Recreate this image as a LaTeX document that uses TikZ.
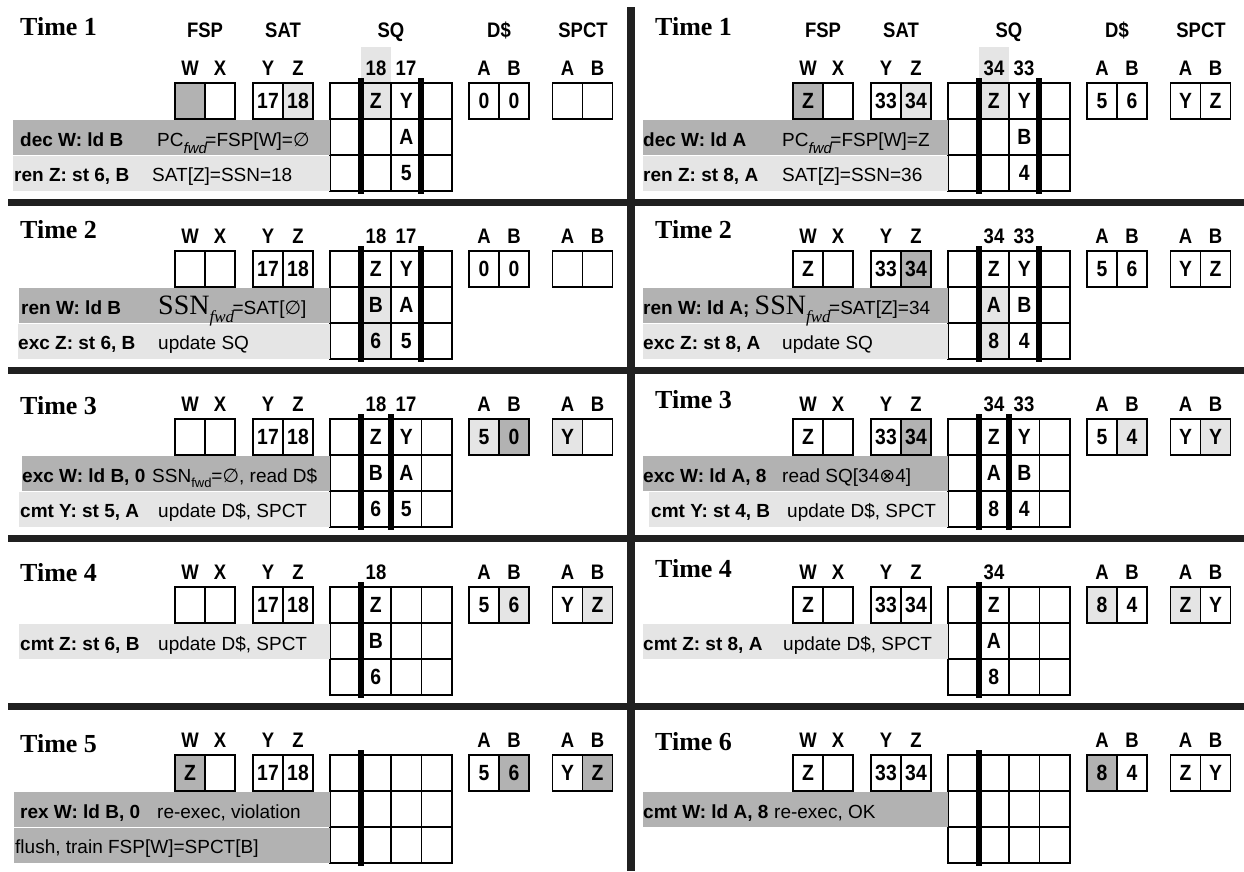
\documentclass[tikz,border=0pt]{standalone}
\usepackage{fontspec}
\setmainfont{Liberation Sans}
\newfontfamily\narrowf[FakeStretch=0.88]{Liberation Sans}
\newfontfamily\tmsf{Liberation Serif}
\newfontfamily\djv{DejaVu Sans}
\definecolor{lg}{RGB}{229,229,229}
\definecolor{dg}{RGB}{178,178,178}
\definecolor{sepc}{RGB}{32,32,32}
\tikzset{
  cellbox/.style={draw, line width=1.2pt, minimum width=30pt, minimum height=36pt, inner sep=0pt,
    font=\narrowf\bfseries\fontsize{22}{22}\selectfont},
  sqtxt/.style={inner sep=0pt, font=\narrowf\bfseries\fontsize{22}{22}\selectfont},
  lbl/.style={anchor=base, inner sep=0pt, font=\narrowf\bfseries\fontsize{21}{21}\selectfont},
  btxt/.style={anchor=base west, inner sep=0pt, font=\bfseries\fontsize{19}{19}\selectfont},
  rtxt/.style={anchor=base west, inner sep=0pt, font=\fontsize{19}{19}\selectfont},
  tlab/.style={anchor=base west, inner sep=0pt, font=\tmsf\bfseries\fontsize{26}{26}\selectfont},
  gl/.style={line width=1.2pt},
}
\newcounter{nc}
\newcommand\cl[4]{\stepcounter{nc}\node[cellbox,fill=#3] (c\arabic{nc}) at (#1,#2) {#4};}
\newcommand\pr[6]{\cl{#1+15}{#2+18}{#3}{#4}\cl{#1+45}{#2+18}{#5}{#6}}
\newcommand\fspp[5]{\pr{175}{#1}{#2}{#3}{#4}{#5}}
\newcommand\satp[5]{\pr{253}{#1}{#2}{#3}{#4}{#5}}
\newcommand\dcp[5]{\pr{469}{#1}{#2}{#3}{#4}{#5}}
\newcommand\spp[5]{\pr{552.5}{#1}{#2}{#3}{#4}{#5}}
\newcommand\lab[3]{\stepcounter{nc}\node[lbl] (l\arabic{nc}) at (#1,#2-8) {#3};}
\newcommand\labs[1]{\lab{190}{#1}{W}\lab{220}{#1}{X}\lab{268}{#1}{Y}\lab{298}{#1}{Z}\lab{484}{#1}{A}\lab{514}{#1}{B}\lab{567.5}{#1}{A}\lab{597.5}{#1}{B}}
\newcommand\sqf[4]{\fill[#4] ({330+30.5*(#2-1)},{#1+36*(#3-1)}) rectangle +(30.5,36);}
\newcommand\sqg[1]{\draw[gl] (330,#1) rectangle (452,#1+108) (360.5,#1) -- (360.5,#1+108) (391,#1) -- (391,#1+108) (421.5,#1) -- (421.5,#1+108) (330,#1+36) -- (452,#1+36) (330,#1+72) -- (452,#1+72);}
\newcommand\sqt[4]{\stepcounter{nc}\node[sqtxt] (q\arabic{nc}) at ({330+30.5*#2-15.25},{#1+36*#3-18}) {#4};}
\newcommand\tbar[2]{\fill (#1-3,#2-5) rectangle (#1+3,#2+111);}
\newcommand\rowbg[4]{\fill[#1] (#2,{#3+36*#4+0.5}) rectangle (330,{#3+36*#4+35.5});}
\newcommand\bt[3]{\stepcounter{nc}\node[btxt] (b\arabic{nc}) at (#1,#2) {#3};}
\newcommand\rt[3]{\stepcounter{nc}\node[rtxt] (r\arabic{nc}) at (#1,#2) {#3};}
\newcommand\tl[3]{\stepcounter{nc}\node[tlab] (t\arabic{nc}) at (#1,#2) {#3};}
\newcommand\hd[2]{\stepcounter{nc}\node[lbl] (h\arabic{nc}) at (#1,37) {#2};}
\newcommand\hds{\hd{205}{FSP}\hd{283}{SAT}\hd{391}{SQ}\hd{499}{D\$}\hd{583}{SPCT}}
\newcommand\es{{\djv ∅}}
\newcommand\otm{{\djv ⊗}}
\newcommand\fwdi{\raisebox{-7pt}{\fontsize{15}{15}\selectfont\itshape fwd}\kern-1.5pt}
\newcommand\fwdu{\raisebox{-5pt}{\fontsize{13}{13}\selectfont fwd}}
\newcommand\ssnf{{\tmsf\fontsize{28}{28}\selectfont SSN}\raisebox{-8pt}{\tmsf\itshape\fontsize{17}{17}\selectfont fwd}\kern-1.5pt}
\begin{document}
\begin{tikzpicture}[x=1pt,y=-1pt]
\useasboundingbox (0,0) rectangle (1244,871);
% separators
\fill[sepc] (8,199) rectangle (1244,206);
\fill[sepc] (8,367) rectangle (1244,374);
\fill[sepc] (8,535) rectangle (1244,542);
\fill[sepc] (8,703) rectangle (1244,710);
\fill[sepc] (627,7) rectangle (635,871);

% ================= LEFT HALF =================
\begin{scope}
% ---- Time 1
\tl{20}{35}{Time 1}
\hds
\fill[lg] (360.5,47) rectangle (391,83);
\labs{83}\lab{376}{83}{18}\lab{406}{83}{17}
\fspp{83}{dg}{}{white}{}
\satp{83}{white}{17}{lg}{18}
\dcp{83}{white}{0}{white}{0}
\spp{83}{white}{}{white}{}
\sqf{83}{2}{1}{lg}\sqg{83}
\sqt{83}{2}{1}{Z}\sqt{83}{3}{1}{Y}\sqt{83}{3}{2}{A}\sqt{83}{3}{3}{5}
\tbar{361}{83}\tbar{421}{83}
\rowbg{dg}{13}{83}{1}\rowbg{lg}{13}{83}{2}
\bt{20}{146}{dec W: ld B}\rt{157}{146}{PC\fwdi=FSP[W]=\es}
\bt{14}{181}{ren Z: st 6, B}\rt{152}{181}{SAT[Z]=SSN=18}
% ---- Time 2
\tl{20}{238}{Time 2}
\labs{251}\lab{376}{251}{18}\lab{406}{251}{17}
\fspp{251}{white}{}{white}{}
\satp{251}{white}{17}{white}{18}
\dcp{251}{white}{0}{white}{0}
\spp{251}{white}{}{white}{}
\sqf{251}{2}{2}{lg}\sqf{251}{2}{3}{lg}\sqg{251}
\sqt{251}{2}{1}{Z}\sqt{251}{3}{1}{Y}\sqt{251}{2}{2}{B}\sqt{251}{3}{2}{A}\sqt{251}{2}{3}{6}\sqt{251}{3}{3}{5}
\tbar{361}{251}\tbar{421}{251}
\rowbg{dg}{19}{251}{1}\rowbg{lg}{18}{251}{2}
\bt{21}{314}{ren W: ld B}\rt{158}{314}{\ssnf=SAT[\es]}
\bt{18}{349}{exc Z: st 6, B}\rt{158}{349}{update SQ}
% ---- Time 3
\tl{20}{414}{Time 3}
\labs{419}\lab{376}{419}{18}\lab{406}{419}{17}
\fspp{419}{white}{}{white}{}
\satp{419}{white}{17}{white}{18}
\dcp{419}{lg}{5}{dg}{0}
\spp{419}{lg}{Y}{white}{}
\sqg{419}
\sqt{419}{2}{1}{Z}\sqt{419}{3}{1}{Y}\sqt{419}{2}{2}{B}\sqt{419}{3}{2}{A}\sqt{419}{2}{3}{6}\sqt{419}{3}{3}{5}
\tbar{361}{419}\tbar{391}{419}
\rowbg{dg}{22}{419}{1}\rowbg{lg}{19}{419}{2}
\bt{22}{482}{exc W: ld B, 0}\rt{152}{482}{SSN\fwdu=\es, read D\$}
\bt{20}{517}{cmt Y: st 5, A}\rt{158}{517}{update D\$, SPCT}
% ---- Time 4
\tl{20}{581}{Time 4}
\labs{587}\lab{376}{587}{18}
\fspp{587}{white}{}{white}{}
\satp{587}{white}{17}{white}{18}
\dcp{587}{white}{5}{lg}{6}
\spp{587}{white}{Y}{lg}{Z}
\sqg{587}
\sqt{587}{2}{1}{Z}\sqt{587}{2}{2}{B}\sqt{587}{2}{3}{6}
\tbar{361}{587}
\rowbg{lg}{19}{587}{1}
\bt{20}{650}{cmt Z: st 6, B}\rt{158}{650}{update D\$, SPCT}
% ---- Time 5
\tl{20}{752}{Time 5}
\labs{755}
\fspp{755}{dg}{Z}{white}{}
\satp{755}{white}{17}{white}{18}
\dcp{755}{white}{5}{dg}{6}
\spp{755}{white}{Y}{dg}{Z}
\sqg{755}
\tbar{361}{755}
\rowbg{dg}{14}{755}{1}\rowbg{dg}{14}{755}{2}
\bt{20}{818}{rex W: ld B, 0}\rt{157}{818}{re-exec, violation}
\rt{15}{853}{flush, train FSP[W]=SPCT[B]}
\end{scope}

% ================= RIGHT HALF =================
\begin{scope}[xshift=618]
% ---- Time 1
\tl{37}{35}{Time 1}
\hds
\fill[lg] (360.5,47) rectangle (391,83);
\labs{83}\lab{376}{83}{34}\lab{406}{83}{33}
\fspp{83}{dg}{Z}{white}{}
\satp{83}{white}{33}{lg}{34}
\dcp{83}{white}{5}{white}{6}
\spp{83}{white}{Y}{white}{Z}
\sqf{83}{2}{1}{lg}\sqg{83}
\sqt{83}{2}{1}{Z}\sqt{83}{3}{1}{Y}\sqt{83}{3}{2}{B}\sqt{83}{3}{3}{4}
\tbar{361}{83}\tbar{421}{83}
\rowbg{dg}{25}{83}{1}\rowbg{lg}{25}{83}{2}
\bt{25}{146}{dec W: ld A}\rt{164}{146}{PC\fwdi=FSP[W]=Z}
\bt{25}{181}{ren Z: st 8, A}\rt{164}{181}{SAT[Z]=SSN=36}
% ---- Time 2
\tl{37}{238}{Time 2}
\labs{251}\lab{376}{251}{34}\lab{406}{251}{33}
\fspp{251}{white}{Z}{white}{}
\satp{251}{white}{33}{dg}{34}
\dcp{251}{white}{5}{white}{6}
\spp{251}{white}{Y}{white}{Z}
\sqf{251}{2}{2}{lg}\sqf{251}{2}{3}{lg}\sqg{251}
\sqt{251}{2}{1}{Z}\sqt{251}{3}{1}{Y}\sqt{251}{2}{2}{A}\sqt{251}{3}{2}{B}\sqt{251}{2}{3}{8}\sqt{251}{3}{3}{4}
\tbar{361}{251}\tbar{421}{251}
\rowbg{dg}{25}{251}{1}\rowbg{lg}{25}{251}{2}
\rt{25}{314}{{\bfseries ren W: ld A;} \ssnf=SAT[Z]=34}
\bt{25}{349}{exc Z: st 8, A}\rt{164}{349}{update SQ}
% ---- Time 3
\tl{37}{408}{Time 3}
\labs{419}\lab{376}{419}{34}\lab{406}{419}{33}
\fspp{419}{white}{Z}{white}{}
\satp{419}{white}{33}{dg}{34}
\dcp{419}{white}{5}{lg}{4}
\spp{419}{white}{Y}{lg}{Y}
\sqg{419}
\sqt{419}{2}{1}{Z}\sqt{419}{3}{1}{Y}\sqt{419}{2}{2}{A}\sqt{419}{3}{2}{B}\sqt{419}{2}{3}{8}\sqt{419}{3}{3}{4}
\tbar{361}{419}\tbar{391}{419}
\rowbg{dg}{25}{419}{1}\rowbg{lg}{31}{419}{2}
\bt{25}{482}{exc W: ld A, 8}\rt{164}{482}{read SQ[34\otm4]}
\bt{33}{517}{cmt Y: st 4, B}\rt{169}{517}{update D\$, SPCT}
% ---- Time 4
\tl{37}{577}{Time 4}
\labs{587}\lab{376}{587}{34}
\fspp{587}{white}{Z}{white}{}
\satp{587}{white}{33}{white}{34}
\dcp{587}{lg}{8}{white}{4}
\spp{587}{lg}{Z}{white}{Y}
\sqg{587}
\sqt{587}{2}{1}{Z}\sqt{587}{2}{2}{A}\sqt{587}{2}{3}{8}
\tbar{361}{587}
\rowbg{lg}{25}{587}{1}
\bt{25}{650}{cmt Z: st 8, A}\rt{165}{650}{update D\$, SPCT}
% ---- Time 6
\tl{37}{750}{Time 6}
\labs{755}
\fspp{755}{white}{Z}{white}{}
\satp{755}{white}{33}{white}{34}
\dcp{755}{dg}{8}{white}{4}
\spp{755}{white}{Z}{white}{Y}
\sqg{755}
\tbar{361}{755}
\rowbg{dg}{25}{755}{1}
\bt{25}{818}{cmt W: ld A, 8}\rt{156}{818}{re-exec, OK}
\end{scope}
\end{tikzpicture}
\end{document}
